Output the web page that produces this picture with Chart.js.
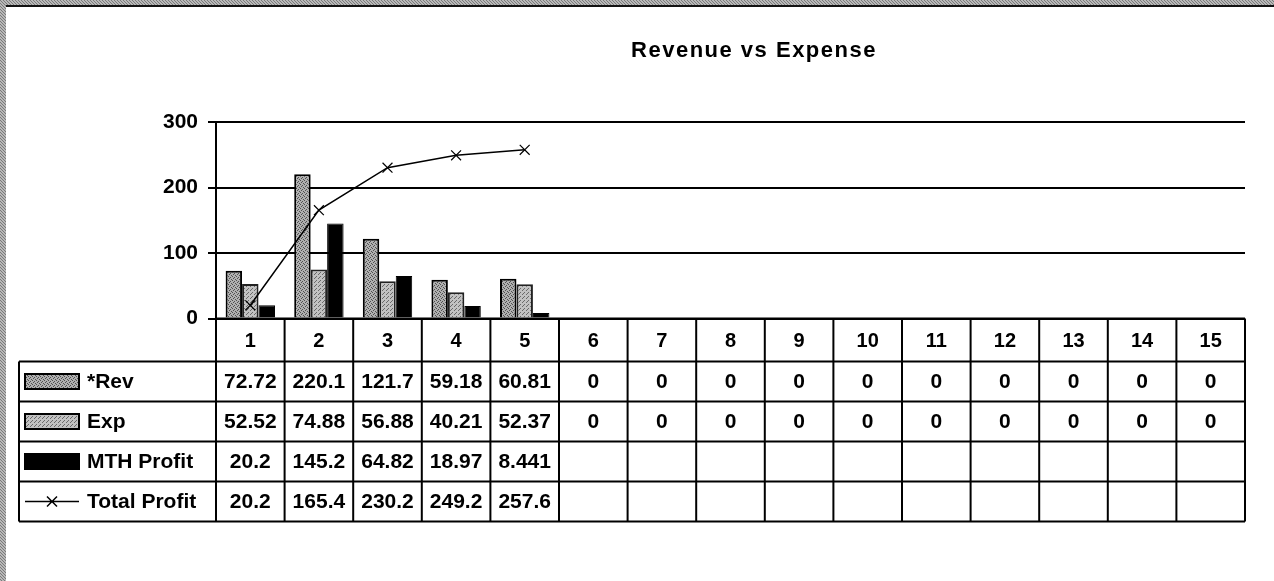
<!DOCTYPE html>
<html>
<head>
<meta charset="utf-8">
<title>Revenue vs Expense</title>
<script src="https://cdn.jsdelivr.net/npm/chart.js@4"></script>
<style>
  html, body { margin: 0; padding: 0; background: #fff; }
  canvas { display: block; }
</style>
</head>
<body>
<canvas id="chart" width="1274" height="581"></canvas>
<script>
// --- DATA ---
const categories = ['1', '2', '3', '4', '5', '6', '7', '8', '9', '10', '11', '12', '13', '14', '15'];
const seriesNames = ['*Rev', 'Exp', 'MTH Profit', 'Total Profit'];
const revenue = [72.72, 220.1, 121.7, 59.18, 60.81, 0, 0, 0, 0, 0, 0, 0, 0, 0, 0];
const expense = [52.52, 74.88, 56.88, 40.21, 52.37, 0, 0, 0, 0, 0, 0, 0, 0, 0, 0];
const mthProfit = [20.2, 145.2, 64.82, 18.97, 8.441, null, null, null, null, null, null, null, null, null, null];
const totalProfit = [20.2, 165.4, 230.2, 249.2, 257.6, null, null, null, null, null, null, null, null, null, null];
const yMin = 0, yMax = 300, yStep = 100;
const chartTitle = 'Revenue vs Expense';

const FONT = "'Liberation Sans', Arial, sans-serif";

const canvas = document.getElementById('chart');
const ctx = canvas.getContext('2d');

// small fixed dither tiles to imitate the printed hatch fill
function makePattern(light, dark, rows) {
    const c = document.createElement('canvas');
    c.width = rows[0].length;
    c.height = rows.length;
    const g = c.getContext('2d');
    rows.forEach((r, y) => {
        [...r].forEach((ch, x) => {
            g.fillStyle = ch === '1' ? dark : light;
            g.fillRect(x, y, 1, 1);
        });
    });
    return ctx.createPattern(c, 'repeat');
}

const revFill = makePattern('#b0b0b0', '#505050', ['1000', '0010', '0100', '0001']);
const expFill = makePattern('#c2c2c2', '#6a6a6a', ['1000', '0001', '0010', '0000']);
const frameFill = makePattern('#b8b8b8', '#7a7a7a', ['100', '010', '001']);

// --- FRAME + TITLE ---
const framePlugin = {
    id: 'frame',
    afterDraw(chart) {
        const c = chart.ctx;
        c.save();
        c.fillStyle = frameFill;
        c.fillRect(0, 0, 6, chart.height);
        c.fillRect(0, 0, chart.width, 5);
        c.fillStyle = '#111';
        c.fillRect(6, 5, chart.width - 6, 2);

        c.fillStyle = '#000';
        c.font = 'bold 22px ' + FONT;
        c.textAlign = 'center';
        c.textBaseline = 'middle';
        if ('letterSpacing' in c) c.letterSpacing = '1.5px';
        c.fillText(chartTitle, 754, 51);
        c.restore();
    }
};

// --- DATA TABLE UNDER THE PLOT ---
const tablePlugin = {
    id: 'dataTable',
    afterDraw(chart) {
        const c = chart.ctx;
        const area = chart.chartArea;
        const x = chart.scales.x;
        const half = (x.getPixelForValue(1) - x.getPixelForValue(0)) / 2;
        const left = x.getPixelForValue(0) - half;
        const right = x.getPixelForValue(categories.length - 1) + half;
        const headerH = 43, rowH = 40, labelLeft = 19;
        const headTop = area.bottom;
        const bodyTop = headTop + headerH;
        const bottom = bodyTop + rowH * seriesNames.length;
        const rows = [revenue, expense, mthProfit, totalProfit];

        c.save();
        c.strokeStyle = '#000';
        c.lineWidth = 2;

        // horizontal lines
        c.beginPath();
        c.moveTo(left, headTop); c.lineTo(right, headTop);
        for (let r = 0; r <= seriesNames.length; r++) {
            const y = bodyTop + r * rowH;
            c.moveTo(labelLeft, y); c.lineTo(right, y);
        }
        // vertical lines
        c.moveTo(labelLeft, bodyTop); c.lineTo(labelLeft, bottom);
        for (let i = 0; i <= categories.length; i++) {
            const xx = left + i * half * 2;
            c.moveTo(xx, headTop); c.lineTo(xx, bottom);
        }
        c.stroke();

        c.fillStyle = '#000';
        c.font = 'bold 20px ' + FONT;
        c.textAlign = 'center';
        c.textBaseline = 'middle';
        categories.forEach((cat, i) => {
            c.fillText(cat, x.getPixelForValue(i), headTop + headerH / 2 + 1);
        });

        c.font = 'bold 21px ' + FONT;
        rows.forEach((vals, r) => {
            const cy = bodyTop + r * rowH + rowH / 2 + 1;
            vals.forEach((v, i) => {
                if (v === null) return;
                c.fillText(String(v), x.getPixelForValue(i), cy);
            });
        });

        // legend keys + names
        const keyX = 25, keyW = 54, keyH = 15;
        seriesNames.forEach((name, r) => {
            const cy = bodyTop + r * rowH + rowH / 2;
            if (r < 3) {
                c.fillStyle = [revFill, expFill, '#000'][r];
                c.fillRect(keyX, cy - keyH / 2, keyW, keyH);
                c.lineWidth = 2;
                c.strokeStyle = '#000';
                c.strokeRect(keyX, cy - keyH / 2, keyW, keyH);
            } else {
                c.lineWidth = 1.5;
                c.strokeStyle = '#000';
                c.beginPath();
                c.moveTo(keyX, cy); c.lineTo(keyX + keyW, cy);
                const mx = keyX + keyW / 2, s = 5;
                c.moveTo(mx - s, cy - s); c.lineTo(mx + s, cy + s);
                c.moveTo(mx + s, cy - s); c.lineTo(mx - s, cy + s);
                c.stroke();
            }
            c.fillStyle = '#000';
            c.textAlign = 'left';
            c.fillText(name, 87, cy + 1);
        });
        c.restore();
    }
};

new Chart(ctx, {
    type: 'bar',
    data: {
        labels: categories,
        datasets: [
            {
                type: 'line',
                label: seriesNames[3],
                data: totalProfit,
                borderColor: '#000',
                borderWidth: 1.5,
                pointStyle: 'crossRot',
                pointRadius: 7,
                pointBorderWidth: 1.2,
                pointBorderColor: '#000',
                tension: 0,
                spanGaps: false,
                order: 0
            },
            {
                label: seriesNames[0],
                data: revenue,
                backgroundColor: revFill,
                borderColor: '#000',
                borderWidth: 2,
                order: 1
            },
            {
                label: seriesNames[1],
                data: expense,
                backgroundColor: expFill,
                borderColor: '#222',
                borderWidth: 2,
                order: 1
            },
            {
                label: seriesNames[2],
                data: mthProfit,
                backgroundColor: '#000',
                borderColor: '#000',
                borderWidth: 1,
                order: 1
            }
        ]
    },
    options: {
        responsive: false,
        animation: false,
        events: [],
        layout: { padding: { top: 122, right: 29, bottom: 262.5, left: 0 } },
        datasets: {
            bar: { categoryPercentage: 0.72, barPercentage: 1 }
        },
        plugins: {
            legend: { display: false },
            tooltip: { enabled: false },
            title: { display: false }
        },
        scales: {
            x: {
                display: false,
                offset: true
            },
            y: {
                min: yMin,
                max: yMax,
                afterFit: (scale) => { scale.width = 216; },
                ticks: {
                    stepSize: yStep,
                    color: '#000',
                    padding: 10,
                    font: { family: FONT, size: 21, weight: 'bold' }
                },
                grid: {
                    color: '#000',
                    lineWidth: 2,
                    drawTicks: true,
                    tickLength: 8,
                    tickColor: '#000'
                },
                border: { display: true, color: '#000', width: 2 }
            }
        }
    },
    plugins: [framePlugin, tablePlugin]
});
</script>
</body>
</html>
